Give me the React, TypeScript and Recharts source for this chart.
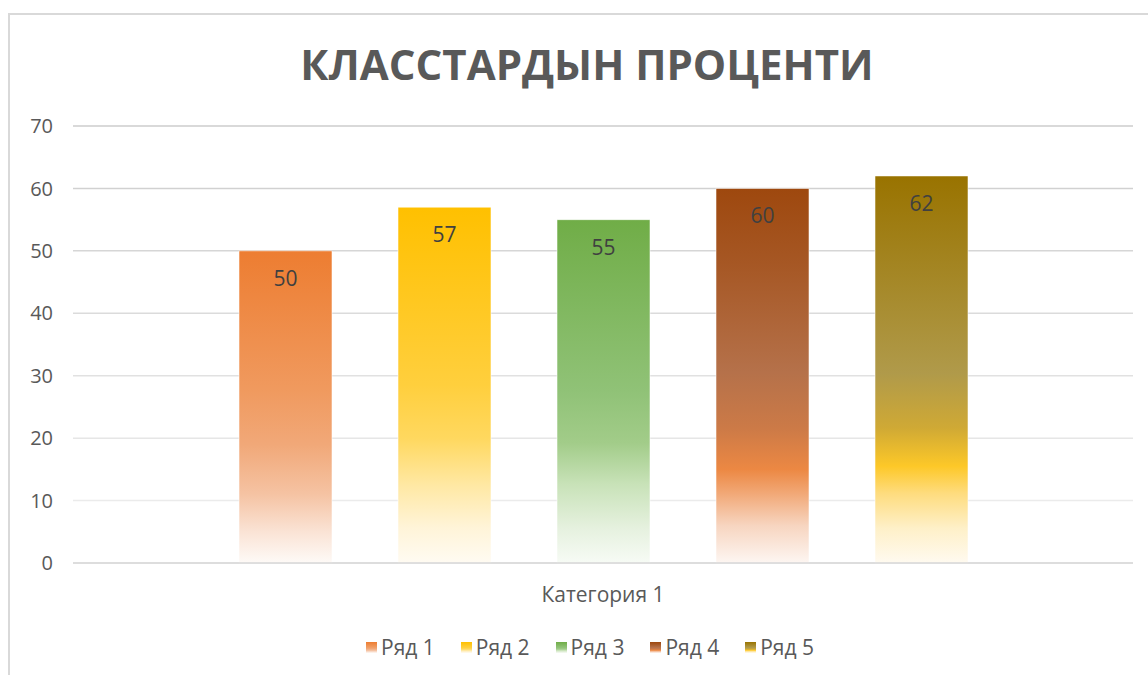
import React from 'react';
import { BarChart, Bar, XAxis, YAxis, CartesianGrid, Legend, LabelList } from 'recharts';

const categories = ['Категория 1'];
const seriesNames = ['Ряд 1', 'Ряд 2', 'Ряд 3', 'Ряд 4', 'Ряд 5'];
const ryad1 = [50];
const ryad2 = [57];
const ryad3 = [55];
const ryad4 = [60];
const ryad5 = [62];
const yTicks = [0, 10, 20, 30, 40, 50, 60, 70];

const seriesValues = [ryad1, ryad2, ryad3, ryad4, ryad5];
const seriesKeys = ['r1', 'r2', 'r3', 'r4', 'r5'];

const data = categories.map((name, i) => {
  const row: Record<string, string | number> = { name };
  seriesKeys.forEach((k, s) => {
    row[k] = seriesValues[s][i];
  });
  return row;
});

// vertical fades, top -> bottom of each bar
const gradients: { id: string; stops: [number, string][] }[] = [
  { id: 'g1', stops: [[0, '#ED7D31'], [0.45, '#F09A5F'], [0.62, '#F1A878'], [0.78, '#F5C3A3'], [0.9, '#FAE3D5'], [1, '#FEFAF7']] },
  { id: 'g2', stops: [[0, '#FFC000'], [0.5, '#FFCF3D'], [0.65, '#FFD85F'], [0.78, '#FFE8A3'], [0.9, '#FFF4D8'], [1, '#FFFBF2']] },
  { id: 'g3', stops: [[0, '#70AD47'], [0.5, '#90C277'], [0.65, '#A2CC89'], [0.77, '#C8E2B8'], [0.9, '#E6F1DF'], [1, '#F7FBF5']] },
  { id: 'g4', stops: [[0, '#9E480E'], [0.2, '#A65724'], [0.49, '#B5714A'], [0.64, '#CC7A47'], [0.75, '#EC8843'], [0.81, '#F1A673'], [0.9, '#F7D5C0'], [1, '#FDF6F2']] },
  { id: 'g5', stops: [[0, '#997300'], [0.51, '#B09A4A'], [0.65, '#CFA935'], [0.75, '#FDC828'], [0.82, '#FEDC7E'], [0.91, '#FEF0C8'], [1, '#FFFAF0']] },
];

const FONT = '"Open Sans", "Noto Sans", sans-serif';
const TEXT = '#595959';

const gridLine = (props: any) => {
  const t = props.height ? (props.y1 - props.y) / props.height : 0;
  const g = Math.round(0xcc + (0xf0 - 0xcc) * t);
  const c = `rgb(${g},${g},${g})`;
  return <line key={props.key ?? props.index} x1={props.x1} y1={props.y1} x2={props.x2} y2={props.y2} stroke={c} strokeWidth={1.5} />;
};

const renderLegend = () => (
  <div
    style={{
      display: 'flex',
      justifyContent: 'center',
      alignItems: 'center',
      height: 30,
      fontFamily: FONT,
      fontSize: 21,
      color: TEXT,
    }}
  >
    {seriesNames.map((n, i) => (
      <span key={n} style={{ display: 'inline-flex', alignItems: 'center', margin: '0 13px' }}>
        <svg width={11} height={11} style={{ marginRight: 4 }}>
          <rect width={11} height={11} fill={`url(#${gradients[i].id})`} />
        </svg>
        {n}
      </span>
    ))}
  </div>
);

export default function App() {
  return (
    <div style={{ position: 'fixed', left: 0, top: 0, width: 1148, height: 675, background: '#fff', overflow: 'hidden' }}>
      <div
        style={{
          position: 'absolute',
          left: 8,
          top: 13,
          width: 1200,
          height: 700,
          borderTop: '2px solid #d9d9d9',
          borderLeft: '2px solid #d9d9d9',
        }}
      />
      <div
        style={{
          position: 'absolute',
          left: 0,
          top: 43,
          width: 1174,
          textAlign: 'center',
          fontFamily: FONT,
          fontWeight: 700,
          fontSize: 42,
          lineHeight: 1,
          color: TEXT,
        }}
      >
        КЛАССТАРДЫН ПРОЦЕНТИ
      </div>
      <div style={{ position: 'absolute', left: 0, top: 0 }}>
        <BarChart
          width={1148}
          height={675}
          data={data}
          margin={{ top: 126, right: 15, bottom: 32, left: 13 }}
          barCategoryGap={166}
          barGap={66}
        >
          <defs>
            {gradients.map((g) => (
              <linearGradient key={g.id} id={g.id} x1="0" y1="0" x2="0" y2="1">
                {g.stops.map(([o, c]) => (
                  <stop key={o} offset={o} stopColor={c} />
                ))}
              </linearGradient>
            ))}
          </defs>
          <CartesianGrid vertical={false} horizontal={gridLine} />
          <XAxis
            dataKey="name"
            axisLine={{ stroke: '#d6d6d6', strokeWidth: 1.5 }}
            tickLine={false}
            tickSize={0}
            tickMargin={24}
            height={50}
            tick={{ fill: TEXT, fontSize: 21, fontFamily: FONT }}
          />
          <YAxis
            domain={[0, 70]}
            ticks={yTicks}
            axisLine={false}
            tickLine={false}
            tickSize={0}
            tickMargin={20}
            width={60}
            tick={{ fill: TEXT, fontSize: 20, fontFamily: FONT }}
          />
          <Legend
            verticalAlign="bottom"
            content={renderLegend}
            wrapperStyle={{ top: 632, left: 0, bottom: 'auto', width: 1180 }}
          />
          {seriesKeys.map((k, i) => (
            <Bar
              key={k}
              dataKey={k}
              name={seriesNames[i]}
              fill={`url(#${gradients[i].id})`}
              stroke="rgba(255,255,255,0.55)"
              strokeWidth={1}
              isAnimationActive={false}
            >
              <LabelList dataKey={k} position="insideTop" offset={20} fill="#404040" fontSize={21} fontFamily={FONT} />
            </Bar>
          ))}
        </BarChart>
      </div>
    </div>
  );
}
